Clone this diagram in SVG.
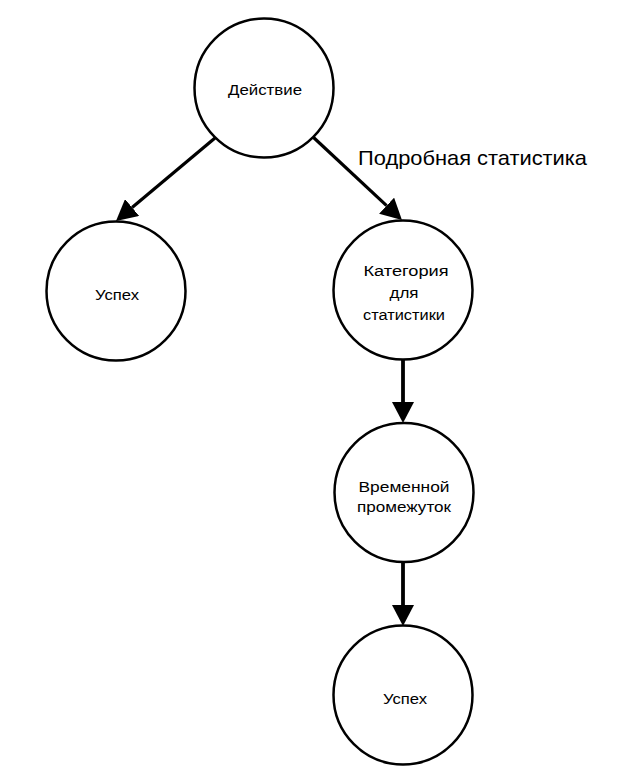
<svg xmlns="http://www.w3.org/2000/svg" width="636" height="771" viewBox="0 0 636 771">
<style>
.node circle{fill:#fff;stroke:#000;stroke-width:2.5}
.node text{font-family:"Liberation Sans",Arial,sans-serif;font-size:14px;fill:#000;text-anchor:middle}
.edge{stroke:#000;fill:none}
.lbl{font-family:"Liberation Sans",Arial,sans-serif;font-size:21px;fill:#000}
</style>
<defs>
<marker id="arr" markerUnits="userSpaceOnUse" markerWidth="22" markerHeight="22" refX="0" refY="11" orient="auto">
<path d="M0,0 L21,11 L0,22 z" fill="#000"/>
</marker>
</defs>
<rect width="636" height="771" fill="#fff"/>
<g id="connectors">
<line class="edge" x1="215" y1="138" x2="132.1" y2="207.5" stroke-width="3.2" marker-end="url(#arr)"/>
<line class="edge" x1="313" y1="137" x2="386.6" y2="205.7" stroke-width="3.2" marker-end="url(#arr)"/>
<line class="edge" x1="403" y1="359" x2="403" y2="402" stroke-width="3.8" marker-end="url(#arr)"/>
<line class="edge" x1="403" y1="562" x2="403" y2="605" stroke-width="3.8" marker-end="url(#arr)"/>
<text class="lbl" x="358" y="165" textLength="229" lengthAdjust="spacingAndGlyphs">Подробная статистика</text>
</g>
<g id="node-action" class="node">
<circle cx="264" cy="88" r="69.5"/>
<text x="265" y="95" textLength="74" lengthAdjust="spacingAndGlyphs">Действие</text>
</g>
<g id="node-success-left" class="node">
<circle cx="116" cy="291" r="69.5"/>
<text x="117" y="300" textLength="44" lengthAdjust="spacingAndGlyphs">Успех</text>
</g>
<g id="node-category" class="node">
<circle cx="403" cy="290" r="69.5"/>
<text x="406" y="276" textLength="85" lengthAdjust="spacingAndGlyphs">Категория</text>
<text x="404" y="298" textLength="29" lengthAdjust="spacingAndGlyphs">для</text>
<text x="404" y="320" textLength="82" lengthAdjust="spacingAndGlyphs">статистики</text>
</g>
<g id="node-interval" class="node">
<circle cx="404" cy="492.5" r="69.5"/>
<text x="404" y="492" textLength="91" lengthAdjust="spacingAndGlyphs">Временной</text>
<text x="404" y="512" textLength="94" lengthAdjust="spacingAndGlyphs">промежуток</text>
</g>
<g id="node-success-bottom" class="node">
<circle cx="403" cy="695" r="69.5"/>
<text x="405" y="704" textLength="44" lengthAdjust="spacingAndGlyphs">Успех</text>
</g>
</svg>
